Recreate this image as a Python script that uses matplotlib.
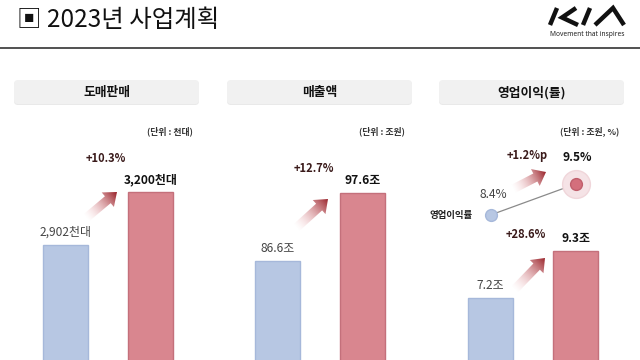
import numpy as np
import matplotlib
matplotlib.use("Agg")
import matplotlib.pyplot as plt
from matplotlib.patches import FancyBboxPatch, Polygon

plt.rcParams['font.family'] = ['Noto Sans CJK KR', 'DejaVu Sans']

# data
panel_titles = ["도매판매", "매출액", "영업이익(률)"]
unit_labels = ["(단위 : 천대)", "(단위 : 조원)", "(단위 : 조원, %)"]
sales = [2902, 3200]
revenue = [86.6, 97.6]
op_profit = [7.2, 9.3]
op_margin = [8.4, 9.5]
sales_labels = ["2,902천대", "3,200천대"]
revenue_labels = ["86.6조", "97.6조"]
profit_labels = ["7.2조", "9.3조"]
margin_labels = ["8.4%", "9.5%"]
growth_labels = ["+10.3%", "+12.7%", "+28.6%"]
margin_growth = "+1.2%p"

W, H = 640, 360
fig = plt.figure(figsize=(6.4, 3.6), dpi=100)
fig.patch.set_facecolor("white")

BLUE, BLUE_E = "#b7c7e3", "#a6b8da"
RED, RED_E = "#d9868f", "#c4707b"


def panel_axes(x0, x1, top=110):
    ax = fig.add_axes([x0 / W, 0, (x1 - x0) / W, (H - top) / H])
    ax.set_xlim(-0.594, 1.582)
    ax.axis("off")
    return ax


def bars(ax, vals, labels, ylim):
    ax.set_ylim(*ylim)
    ax.bar([0, 1], vals, width=0.53, color=[BLUE, RED],
           edgecolor=[BLUE_E, RED_E], linewidth=1.0)
    for i, (v, t) in enumerate(zip(vals, labels)):
        ax.annotate(t, (i, v), xytext=(0, 13), textcoords="offset pixels",
                    ha="center", va="center", fontsize=8.6,
                    color="#444444" if i == 0 else "#111111",
                    fontweight="normal" if i == 0 else "bold")


ax1 = panel_axes(15, 200)
bars(ax1, sales, sales_labels, (2258, 3663))
ax2 = panel_axes(227, 412)
bars(ax2, revenue, revenue_labels, (70.6, 111.1))
ax3 = panel_axes(440, 625)
bars(ax3, op_profit, profit_labels, (4.43, 15.6))

# operating margin line
axm = ax3.twinx()
axm.set_ylim(3.25, 12.13)
axm.set_xlim(-0.594, 1.582)
axm.axis("off")
axm.plot([0, 1], op_margin, color="#8a8a8a", lw=0.9, zorder=1)
axm.plot([1], [op_margin[1]], "o", ms=20, color="#f5e3e6", mec="#f0d6da", zorder=2)
axm.plot([0], [op_margin[0]], "o", ms=8.5, color=BLUE, mec=BLUE_E, zorder=3)
axm.plot([1], [op_margin[1]], "o", ms=8.5, color="#d46f7c", mec="#c05f6c", zorder=3)
axm.annotate(margin_labels[0], (0, op_margin[0]), xytext=(3, 21),
             textcoords="offset pixels", ha="center", va="center",
             fontsize=8.6, color="#444444")
axm.annotate(margin_labels[1], (1, op_margin[1]), xytext=(2, 27),
             textcoords="offset pixels", ha="center", va="center",
             fontsize=8.6, color="#111111", fontweight="bold")

# overlay in pixel coordinates
ov = fig.add_axes([0, 0, 1, 1], zorder=5)
ov.set_xlim(0, W)
ov.set_ylim(H, 0)
ov.axis("off")
ov.patch.set_alpha(0)

ov.text(17, 20, "▣ 2023년 사업계획", fontsize=17.6, fontweight="medium",
        ha="left", va="center", color="#111111")
ov.plot([0, W], [47.7, 47.7], color="#222222", lw=1.1)

# logo
for seg in [[(550, 25), (557, 8)], [(576, 8), (562, 17.5), (578, 25)],
            [(583, 25), (590, 8)], [(595, 25), (613, 8), (624, 25)]]:
    xs, ys = zip(*seg)
    ov.plot(xs, ys, color="#111111", lw=3.2, solid_capstyle="butt",
            solid_joinstyle="miter")
ov.text(587.5, 34, "Movement that inspires", fontsize=4.8, ha="center",
        va="center", color="#222222", family=["Noto Sans", "DejaVu Sans"])

# header boxes and units
for (bx0, bx1), title, unit, ux in zip([(14, 199), (227, 412), (439, 624)],
                                      panel_titles, unit_labels, [170, 382, 590]):
    ov.add_patch(FancyBboxPatch((bx0, 81), bx1 - bx0, 24,
                                boxstyle="round,pad=0,rounding_size=4",
                                fc="#e9e9e9", ec="none"))
    ov.add_patch(FancyBboxPatch((bx0, 80), bx1 - bx0, 24,
                                boxstyle="round,pad=0,rounding_size=4",
                                fc="#f1f1f1", ec="none"))
    ov.text((bx0 + bx1) / 2, 92.5, title, fontsize=9.2, fontweight="bold",
            ha="center", va="center", color="#111111")
    ov.text(ux, 131, unit, fontsize=6.4, ha="center", va="center",
            color="#333333", fontweight="bold")

# growth labels
for (tx, ty), t in zip([(106, 158), (314, 168), (526, 235)], growth_labels):
    ov.text(tx, ty, t, fontsize=8, fontweight="bold", ha="center",
            va="center", color="#3a1a1a")
ov.text(527, 155, margin_growth, fontsize=8, fontweight="bold",
        ha="center", va="center", color="#3a1a1a")
ov.text(451, 215, "영업이익률", fontsize=6.8, fontweight="bold",
        ha="center", va="center", color="#222222")


def grad_arrow(tail, tip, shaft=9, head_w=19, head_l=12):
    tail, tip = np.array(tail, float), np.array(tip, float)
    d = tip - tail
    L = np.hypot(*d)
    u = d / L
    n = np.array([-u[1], u[0]])
    base = tip - u * head_l
    pts = [tail + n * shaft / 2, base + n * shaft / 2, base + n * head_w / 2,
           tip, base - n * head_w / 2, base - n * shaft / 2, tail - n * shaft / 2]
    poly = Polygon(pts, closed=True, fc="none", ec="none")
    ov.add_patch(poly)
    pts = np.array(pts)
    x0, y0 = pts.min(axis=0) - 1
    x1, y1 = pts.max(axis=0) + 1
    xs = np.linspace(x0, x1, 80)
    ys = np.linspace(y0, y1, 80)
    X, Y = np.meshgrid(xs, ys)
    t = ((X - tail[0]) * u[0] + (Y - tail[1]) * u[1]) / L
    t = np.clip(t, 0, 1)
    img = np.zeros((80, 80, 4))
    c0 = np.array([0.93, 0.62, 0.64])
    c1 = np.array([0.58, 0.10, 0.13])
    for k in range(3):
        img[..., k] = c0[k] + (c1[k] - c0[k]) * t
    img[..., 3] = t ** 1.1
    im = ov.imshow(img, extent=(x0, x1, y1, y0), origin="upper",
                   interpolation="bilinear", aspect="auto")
    im.set_clip_path(poly)


grad_arrow((86, 218), (117, 192))
grad_arrow((296, 228), (328, 199))
grad_arrow((514, 290), (545, 258))
grad_arrow((513, 189), (546, 172))

ov.set_xlim(0, W)
ov.set_ylim(H, 0)

fig.savefig("out.png", dpi=100)
